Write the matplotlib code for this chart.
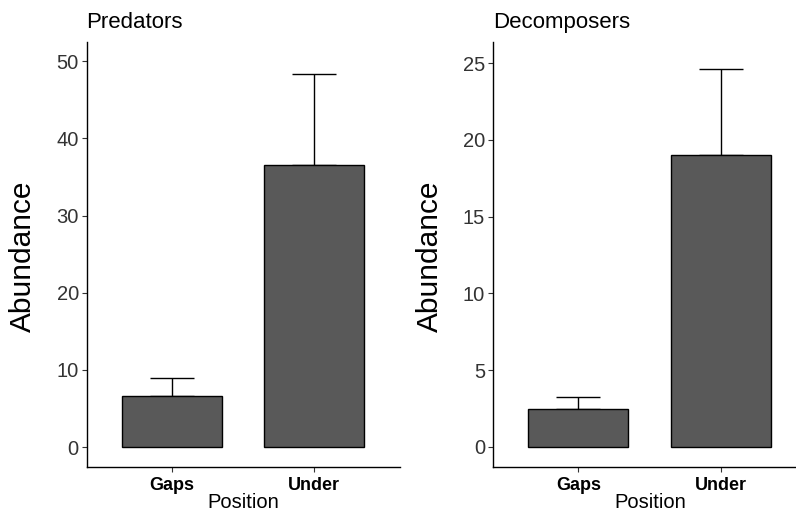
import matplotlib
matplotlib.use('Agg')
import numpy as np
import matplotlib.pyplot as plt

plt.rcParams['font.family'] = ['Liberation Sans', 'DejaVu Sans']

# Data
positions = ["Gaps", "Under"]
predators_mean = [6.65, 36.5]
predators_se = [2.25, 11.8]
decomposers_mean = [2.45, 19.0]
decomposers_se = [0.79, 5.63]

panels = [
    ("Predators", predators_mean, predators_se, [0, 10, 20, 30, 40, 50], (-2.55, 52.5)),
    ("Decomposers", decomposers_mean, decomposers_se, [0, 5, 10, 15, 20, 25], (-1.3, 26.37)),
]

fig = plt.figure(figsize=(7.96, 5.12), dpi=100)
# axes rectangles in figure fractions (right panel runs past the edge like the original)
rects = [
    [86.5 / 796, 45.3 / 512, 313.0 / 796, 424.7 / 512],
    [492.7 / 796, 45.3 / 512, 314.1 / 796, 424.7 / 512],
]
ylab_x = [23, 430]

for (title, means, errs, ticks, ylim), rect, lx in zip(panels, rects, ylab_x):
    ax = fig.add_axes(rect)
    x = np.arange(1, len(positions) + 1)
    ax.errorbar(x, means, yerr=[np.zeros(len(errs)), errs], fmt='none',
                ecolor='black', elinewidth=1.0, capsize=15.5, capthick=1.0, zorder=1)
    ax.bar(x, means, width=0.7, color='#595959', edgecolor='black', linewidth=1.0, zorder=2)
    ax.set_xlim(0.4, 2.6)
    ax.set_ylim(*ylim)
    ax.set_yticks(ticks)
    ax.set_xticks(x)
    ax.set_xticklabels(positions, fontsize=13, fontweight='bold', color='black')
    ax.tick_params(axis='y', labelsize=14.5, labelcolor='#333333', length=3.5, width=0.8,
                   color='#333333', pad=2)
    ax.tick_params(axis='x', length=3.5, width=0.8, color='#333333', pad=4)
    for s in ['top', 'right']:
        ax.spines[s].set_visible(False)
    for s in ['left', 'bottom']:
        ax.spines[s].set_linewidth(1.0)
        ax.spines[s].set_color('black')
    ax.set_xlabel("Position", fontsize=14.5, labelpad=-1)
    ax.set_title(title, loc='left', fontsize=16, pad=10)
    fig.text(lx / 796, 1 - 256 / 512, "Abundance", rotation=90, fontsize=21.5,
             ha='center', va='center')

fig.savefig('out.png', dpi=100)
